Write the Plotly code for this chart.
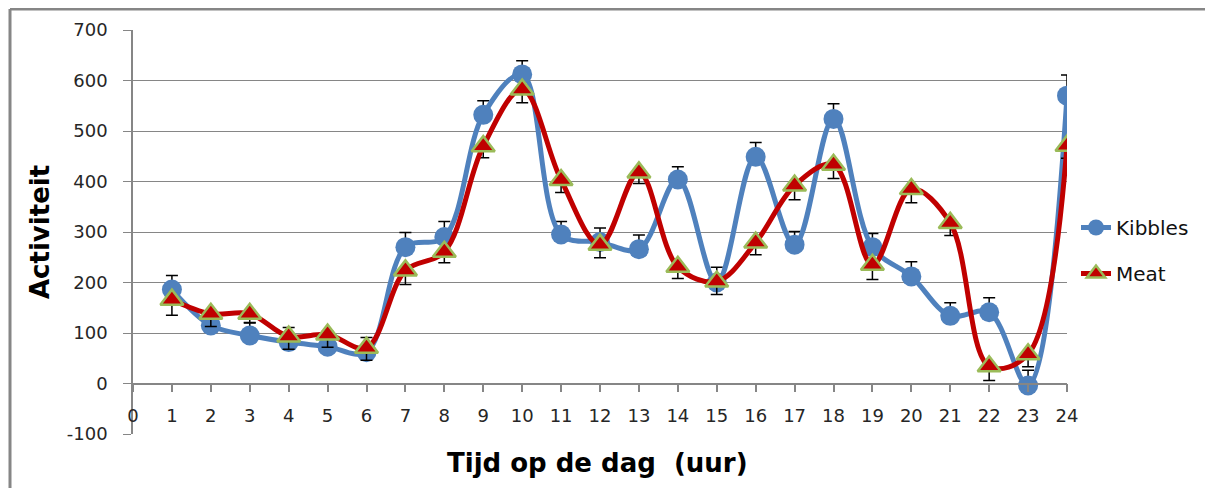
import plotly.graph_objects as go

hours = list(range(1, 25))
kibbles = [186, 115, 95, 82, 73, 62, 270, 290, 532, 612, 295, 280, 266, 404,
           200, 449, 275, 524, 270, 212, 134, 141, -4, 570]
kibbles_err = [28, 28, 26, 29, 30, 29, 29, 31, 28, 27, 26, 28, 28, 25,
               30, 28, 26, 30, 27, 29, 26, 29, 30, 41]
meat = [166, 138, 138, 93, 97, 71, 224, 261, 470, 582, 403, 275, 418, 231,
        202, 279, 392, 433, 235, 385, 318, 34, 58, 471]
meat_err = [31, 25, 18, 25, 25, 25, 28, 22, 23, 26, 25, 26, 22, 23,
            26, 24, 28, 27, 29, 27, 25, 28, 25, 25]
x_ticks = list(range(0, 25))
y_ticks = list(range(-100, 701, 100))
y_tick_labels = [str(v) for v in y_ticks]  # plain hyphen: "-100"

GRID = "#868686"
FONT = "'DejaVu Sans', sans-serif"

# plot area in screen pixels (page has an 8px body margin)
L, T, W, H = 125, 22, 934, 404
SX, SY = 133, 30  # screen position of plot area's top-left


def px(xs):
    return (xs - SX) / W


def py(ys):
    return (SY + H - ys) / H


fig = go.Figure()
fig.add_trace(go.Scatter(
    x=hours, y=kibbles, name="Kibbles", mode="lines+markers",
    line=dict(color="#4F81BD", width=5, shape="spline", smoothing=1),
    marker=dict(symbol="circle", size=20, color="#4F81BD"),
    error_y=dict(type="data", symmetric=False, array=kibbles_err,
                 arrayminus=[0] * len(kibbles_err), color="black",
                 thickness=1.5, width=6),
    legendgroup="k",
))
fig.add_trace(go.Scatter(
    x=hours, y=meat, name="Meat", mode="lines+markers",
    line=dict(color="#C00000", width=5, shape="spline", smoothing=1),
    marker=dict(symbol="triangle-up", size=20, color="#C00000",
                line=dict(color="#9BBB59", width=2.5)),
    error_y=dict(type="data", symmetric=False, array=[0] * len(meat_err),
                 arrayminus=meat_err, color="black", thickness=1.5, width=6),
    legendgroup="m",
))

fig.update_layout(
    width=1213, height=488,
    margin=dict(l=L, r=1213 - L - W, t=T, b=488 - T - H),
    paper_bgcolor="white", plot_bgcolor="white",
    font=dict(family=FONT, color="#262626"),
    showlegend=True,
    legend=dict(x=px(1076), y=py(208), xanchor="left", yanchor="top",
                font=dict(size=20, color="#111"), traceorder="grouped",
                tracegroupgap=17, bgcolor="rgba(0,0,0,0)"),
    xaxis=dict(range=[0, 24], tickvals=x_ticks, ticktext=[str(v) for v in x_ticks],
               showgrid=False, zeroline=False, showline=True,
               linecolor=GRID, linewidth=1.5, ticks="outside", ticklen=8,
               tickcolor=GRID, tickwidth=1.5, anchor="free", position=0.125,
               tickfont=dict(size=18), ticklabelstandoff=8),
    yaxis=dict(range=[-100, 700], tickvals=y_ticks, ticktext=y_tick_labels,
               showgrid=True, gridcolor=GRID, gridwidth=1, zeroline=False,
               showline=True, linecolor=GRID, linewidth=1.5,
               ticks="outside", ticklen=8, tickcolor=GRID, tickwidth=1,
               tickfont=dict(size=18), ticklabelstandoff=12),
)

fig.add_annotation(text="<b>Activiteit</b>", xref="paper", yref="paper",
                   x=px(40), y=0.5, textangle=-90, showarrow=False,
                   font=dict(size=26, color="black"), xanchor="center", yanchor="middle")
fig.add_annotation(text="<b>Tijd op de dag  (uur)</b>", xref="paper", yref="paper",
                   x=px(597), y=py(463), showarrow=False,
                   font=dict(size=26, color="black"), xanchor="center", yanchor="middle")

# outer chart frame (top and left edges visible)
fig.add_shape(type="line", xref="paper", yref="paper",
              x0=px(10), x1=px(1240), y0=py(9), y1=py(9),
              line=dict(color=GRID, width=3))
fig.add_shape(type="line", xref="paper", yref="paper",
              x0=px(10), x1=px(10), y0=py(9), y1=py(520),
              line=dict(color=GRID, width=3))

fig.write_html("out.html")
